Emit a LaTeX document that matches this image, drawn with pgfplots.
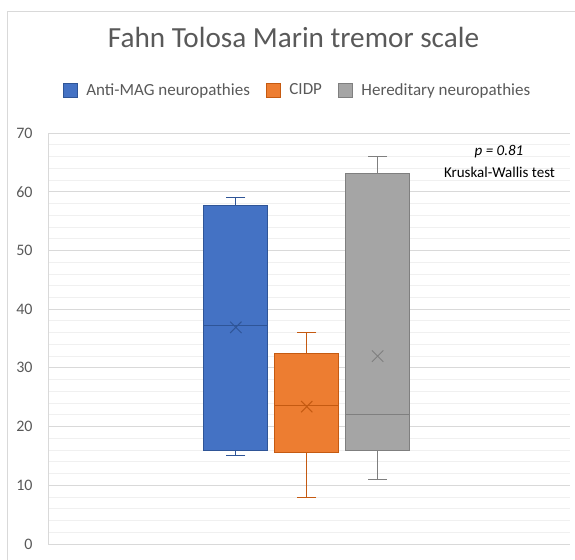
\documentclass[border=0pt]{standalone}
\usepackage{fontspec}
\setmainfont{Carlito}
\usepackage{pgfplots}
\pgfplotsset{compat=1.18}
\usepgfplotslibrary{statistics}
\definecolor{bluefill}{HTML}{4472C4}
\definecolor{blueline}{HTML}{2F5597}
\definecolor{orfill}{HTML}{ED7D31}
\definecolor{orline}{HTML}{C55A11}
\definecolor{grfill}{HTML}{A5A5A5}
\definecolor{grline}{HTML}{7F7F7F}
\definecolor{txt}{HTML}{595959}
\definecolor{majgrid}{HTML}{D9D9D9}
\definecolor{mingrid}{HTML}{F0F0F0}
\begin{document}
\begin{tikzpicture}
\useasboundingbox (0,0) rectangle (575bp,560bp);
\draw[majgrid, line width=0.8bp] (7bp,0) -- (7bp,549bp) -- (575bp,549bp);
\node[anchor=base, text=txt, font=\fontsize{29.2bp}{33bp}\selectfont, inner sep=0pt] at (293.5bp,512bp) {Fahn Tolosa Marin tremor scale};
\begin{axis}[
  at={(48bp,16bp)}, anchor=south west,
  scale only axis, width=522bp, height=411bp,
  xmin=-1.65, xmax=5.714, ymin=0, ymax=70,
  ytick={0,10,...,70}, minor y tick num=4,
  xtick=\empty,
  ymajorgrids, yminorgrids,
  major grid style={majgrid, line width=0.8bp},
  minor grid style={mingrid, line width=0.8bp},
  axis x line*=bottom, axis y line*=left,
  axis line style={majgrid, line width=0.8bp, -},
  major tick length=0pt, minor tick length=0pt,
  tick style={draw=none},
  /pgf/number format/assume math mode=true,
  yticklabel style={text=txt, font=\fontsize{16bp}{18bp}\selectfont, xshift=-12bp},
  clip=false,
  boxplot/draw direction=y,
  legend columns=3,
  legend style={at={(0.478,1.1046)}, anchor=center, draw=none, fill=none, font=\fontsize{17bp}{19bp}\selectfont, text=txt, /tikz/every even column/.append style={column sep=14bp}},
  legend image code/.code={\draw[#1, line width=0.6bp] (0bp,-7bp) rectangle (14bp,7bp); \path (21bp,0bp);},
]
\addlegendimage{fill=bluefill, draw=blueline}
\addlegendentry{Anti-MAG neuropathies}
\addlegendimage{fill=orfill, draw=orline}
\addlegendentry{CIDP}
\addlegendimage{fill=grfill, draw=grline}
\addlegendentry{Hereditary neuropathies}

\addplot[forget plot, fill=bluefill, draw=blueline, line width=1bp,
  boxplot prepared={draw position=1, lower whisker=15, lower quartile=16, median=37.2, upper quartile=57.7, upper whisker=59, box extend=0.905, whisker extend=0.27}] coordinates {};
\addplot[forget plot, fill=orfill, draw=orline, line width=1bp,
  boxplot prepared={draw position=2, lower whisker=8, lower quartile=15.6, median=23.6, upper quartile=32.4, upper whisker=36, box extend=0.905, whisker extend=0.27}] coordinates {};
\addplot[forget plot, fill=grfill, draw=grline, line width=1bp,
  boxplot prepared={draw position=3, lower whisker=11, lower quartile=15.9, median=22, upper quartile=63.1, upper whisker=66, box extend=0.905, whisker extend=0.27}] coordinates {};

\addplot[forget plot, only marks, mark=x, mark size=8bp, blueline, line width=1bp] coordinates {(1,36.9)};
\addplot[forget plot, only marks, mark=x, mark size=8bp, orline, line width=1bp] coordinates {(2,23.4)};
\addplot[forget plot, only marks, mark=x, mark size=8bp, grline, line width=1bp] coordinates {(3,32)};
\end{axis}
\node[font=\itshape\fontsize{15bp}{17bp}\selectfont] at (499bp,408bp) {p = 0.81};
\node[font=\fontsize{15bp}{17bp}\selectfont] at (499.5bp,388bp) {Kruskal-Wallis test};
\end{tikzpicture}
\end{document}
